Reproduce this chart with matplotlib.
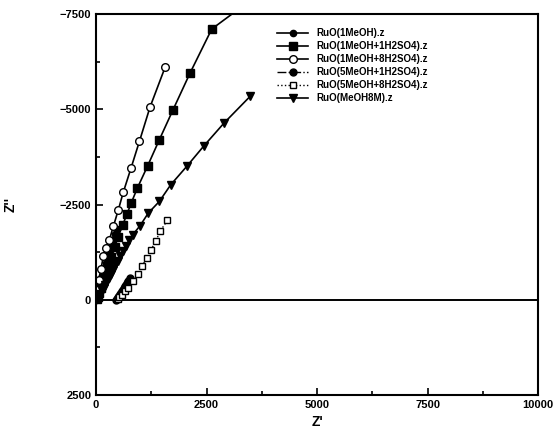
import matplotlib
matplotlib.use("Agg")
import matplotlib.pyplot as plt
from matplotlib.ticker import MultipleLocator

plt.rcParams['font.family'] = ['Liberation Sans', 'DejaVu Sans']

# Nyquist data (Z' , Z'') for each electrolyte
labels = ['RuO(1MeOH).z', 'RuO(1MeOH+1H2SO4).z', 'RuO(1MeOH+8H2SO4).z',
          'RuO(5MeOH+1H2SO4).z', 'RuO(5MeOH+8H2SO4).z', 'RuO(MeOH8M).z']

z1_re = [0, 10, 20, 35, 50, 70, 90, 115, 140, 170, 200, 230, 260, 295, 330,
         365, 400, 435, 470]
z1_im = [0, -50, -100, -170, -250, -330, -420, -520, -620, -730, -850, -960,
         -1080, -1200, -1330, -1460, -1600, -1730, -1870]

z2_re = [20, 40, 70, 110, 160, 220, 280, 350, 420, 500, 600, 700, 800, 935,
         1169, 1425, 1735, 2127, 2618, 3600]
z2_im = [-20, -80, -180, -320, -500, -700, -900, -1130, -1380, -1650, -1950,
         -2250, -2550, -2932, -3517, -4181, -4968, -5950, -7105, -7950]

z3_re = [10, 30, 60, 110, 166, 230, 302, 392, 505, 618, 792, 981, 1222, 1561]
z3_im = [-50, -250, -520, -800, -1137, -1350, -1575, -1925, -2362, -2827,
         -3457, -4155, -5058, -6097]

z4_re = [460, 475, 490, 505, 520, 540, 560, 580, 600, 625, 650, 675, 700, 730,
         760]
z4_im = [0, -20, -40, -70, -100, -140, -180, -220, -260, -305, -350, -400,
         -450, -505, -560]

z5_re = [505, 520, 581, 650, 731, 845, 957, 1048, 1146, 1244, 1357, 1448, 1614]
z5_im = [-20, -60, -131, -220, -307, -481, -674, -892, -1094, -1312, -1549,
         -1794, -2082]

z6_re = [20, 40, 70, 100, 135, 170, 210, 250, 295, 340, 390, 440, 495, 550,
         615, 680, 750, 830, 995, 1183, 1432, 1690, 2052, 2443, 2896, 3484]
z6_im = [-10, -30, -90, -150, -225, -300, -390, -480, -580, -680, -790, -900,
         -1025, -1150, -1285, -1420, -1560, -1706, -1942, -2276, -2580, -3018,
         -3500, -4042, -4638, -5336]

fig = plt.figure(figsize=(5.57, 4.47), dpi=100)
ax = fig.add_axes([0.1724, 0.1163, 0.7936, 0.8524])

ax.axhline(0, color='black', lw=1.4, zorder=1)

ax.plot(z1_re, z1_im, '-o', color='black', lw=1.2, ms=4.5, label=labels[0])
ax.plot(z2_re, z2_im, '-s', color='black', lw=1.2, ms=6, label=labels[1])
ax.plot(z3_re, z3_im, '-o', color='black', mfc='white', lw=1.2, ms=5.5, label=labels[2])
ax.plot(z4_re, z4_im, '-.o', color='black', lw=1.0, ms=5, label=labels[3])
ax.plot(z5_re, z5_im, ':s', color='black', mfc='white', lw=1.0, ms=5, label=labels[4])
ax.plot(z6_re, z6_im, '-v', color='black', lw=1.2, ms=6, label=labels[5])

ax.set_xlim(0, 10000)
ax.set_ylim(2500, -7500)
ax.xaxis.set_major_locator(MultipleLocator(2500))
ax.xaxis.set_minor_locator(MultipleLocator(1250))
ax.yaxis.set_major_locator(MultipleLocator(2500))
ax.yaxis.set_minor_locator(MultipleLocator(1250))
ax.tick_params(which='both', direction='in', top=False, right=False, width=1.2)
ax.tick_params(which='major', length=5, labelsize=8)
ax.tick_params(which='minor', length=3)
for lab in ax.get_xticklabels() + ax.get_yticklabels():
    lab.set_fontweight('bold')
for sp in ax.spines.values():
    sp.set_linewidth(1.5)

ax.set_xlabel("Z'", fontsize=10, fontweight='bold', labelpad=4)
ax.set_ylabel("Z''", fontsize=10, fontweight='bold', labelpad=30)

leg = ax.legend(loc='upper left', bbox_to_anchor=(0.39, 0.985), frameon=False,
                prop={'size': 7, 'weight': 'bold'}, handlelength=3.2,
                labelspacing=0.3, handletextpad=0.8)

fig.savefig('out.png', dpi=100)
